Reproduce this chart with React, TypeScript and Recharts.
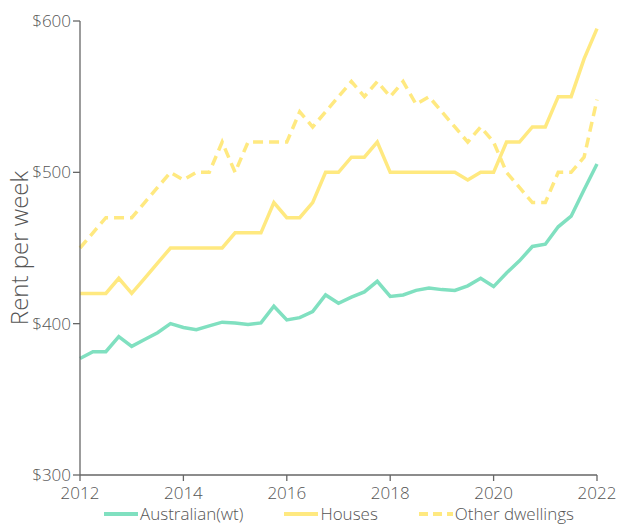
import { CartesianGrid, Legend, Line, LineChart, XAxis, YAxis } from 'recharts';

// ─── Data (quarterly, 2012 – 2022) ───────────────────────────────────────────

const quarters = [
  2012, 2012.25, 2012.5, 2012.75, 2013, 2013.25, 2013.5, 2013.75,
  2014, 2014.25, 2014.5, 2014.75, 2015, 2015.25, 2015.5, 2015.75,
  2016, 2016.25, 2016.5, 2016.75, 2017, 2017.25, 2017.5, 2017.75,
  2018, 2018.25, 2018.5, 2018.75, 2019, 2019.25, 2019.5, 2019.75,
  2020, 2020.25, 2020.5, 2020.75, 2021, 2021.25, 2021.5, 2021.75,
  2022,
];

const australian = [
  377, 381.5, 381.5, 391.5, 385, 389.5, 394, 400, 397.5, 396,
  398.5, 401, 400.5, 399.5, 400.5, 411.5, 402.5, 404, 408, 419,
  413.5, 417.5, 421, 428, 418, 419, 422, 423.5, 422.5, 422,
  425, 430, 424.5, 433.5, 441.5, 451, 452.5, 464, 471, 488.5,
  505.5,
];

const houses = [
  420, 420, 420, 430, 420, 430, 440, 450, 450, 450,
  450, 450, 460, 460, 460, 480, 470, 470, 480, 500,
  500, 510, 510, 520, 500, 500, 500, 500, 500, 500,
  495, 500, 500, 520, 520, 530, 530, 550, 550, 575,
  595,
];

const otherDwellings = [
  450, 460, 470, 470, 470, 480, 490, 500, 495, 500,
  500, 520, 500, 520, 520, 520, 520, 540, 530, 540,
  550, 560, 550, 560, 550, 560, 545, 550, 540, 530,
  520, 530, 520, 500, 490, 480, 480, 500, 500, 510,
  548,
];

const yearTicks = [2012, 2014, 2016, 2018, 2020, 2022];
const rentTicks = [300, 400, 500, 600];

const chartData = quarters.map((q, i) => ({
  q,
  australian: australian[i],
  houses: houses[i],
  other: otherDwellings[i],
}));

// ─── Styles ──────────────────────────────────────────────────────────────────

const GREEN = '#80e0c0';
const YELLOW = '#ffe980';
const AXIS = '#666666';
const TEXT = '#555555';
const FONT = '"Open Sans", "Noto Sans", sans-serif';
const WEIGHT = 300;

const legendItems = [
  { label: 'Australian(wt)', color: GREEN, dash: undefined },
  { label: 'Houses', color: YELLOW, dash: undefined },
  { label: 'Other dwellings', color: YELLOW, dash: '9 5' },
];

function RentLegend() {
  return (
    <div
      style={{
        display: 'flex',
        justifyContent: 'center',
        alignItems: 'center',
        height: 22,
        fontFamily: FONT,
        fontWeight: WEIGHT,
        fontSize: 17,
        lineHeight: '22px',
        color: TEXT,
        whiteSpace: 'nowrap',
      }}
    >
      {legendItems.map((item, i) => (
        <div
          key={item.label}
          style={{
            display: 'flex',
            alignItems: 'center',
            marginLeft: i === 0 ? 0 : 40,
          }}
        >
          <svg width={36} height={10} style={{ marginRight: 1 }}>
            <line
              x1={1}
              y1={5}
              x2={35}
              y2={5}
              stroke={item.color}
              strokeWidth={4}
              strokeDasharray={item.dash}
            />
          </svg>
          <span>{item.label}</span>
        </div>
      ))}
    </div>
  );
}

export default function App() {
  return (
    <div
      style={{
        position: 'fixed',
        left: 0,
        top: 0,
        width: 622,
        height: 526,
        background: '#ffffff',
        fontFamily: FONT,
      }}
    >
      <LineChart
        width={622}
        height={526}
        data={chartData}
        margin={{ top: 21, right: 25, bottom: 0, left: 0 }}
      >
        <CartesianGrid stroke="none" />
        <XAxis
          dataKey="q"
          type="number"
          domain={[2012, 2022]}
          ticks={yearTicks}
          interval={0}
          height={29}
          tickSize={6}
          tickMargin={6}
          stroke={AXIS}
          strokeWidth={1.3}
          tick={{ fill: TEXT, fontSize: 17, fontFamily: FONT, fontWeight: WEIGHT }}
        />
        <YAxis
          type="number"
          domain={[300, 600]}
          ticks={rentTicks}
          width={80}
          tickSize={7}
          tickMargin={2}
          stroke={AXIS}
          strokeWidth={1.3}
          tickFormatter={(v: number) => `$${v}`}
          tick={{ fill: TEXT, fontSize: 17, fontFamily: FONT, fontWeight: WEIGHT }}
          label={{
            value: 'Rent per week',
            angle: -90,
            position: 'insideLeft',
            offset: 19,
            style: {
              fill: TEXT,
              fontSize: 24,
              fontFamily: FONT,
              fontWeight: WEIGHT,
              textAnchor: 'middle',
            },
          }}
        />
        <Legend
          verticalAlign="bottom"
          height={22}
          content={() => <RentLegend />}
          wrapperStyle={{ left: 80, width: 517, bottom: 1 }}
        />
        <Line
          dataKey="other"
          name="Other dwellings"
          stroke={YELLOW}
          strokeWidth={3.5}
          strokeDasharray="10 6"
          dot={false}
          isAnimationActive={false}
        />
        <Line
          dataKey="houses"
          name="Houses"
          stroke={YELLOW}
          strokeWidth={3.5}
          dot={false}
          isAnimationActive={false}
        />
        <Line
          dataKey="australian"
          name="Australian(wt)"
          stroke={GREEN}
          strokeWidth={3.5}
          dot={false}
          isAnimationActive={false}
        />
      </LineChart>
    </div>
  );
}
